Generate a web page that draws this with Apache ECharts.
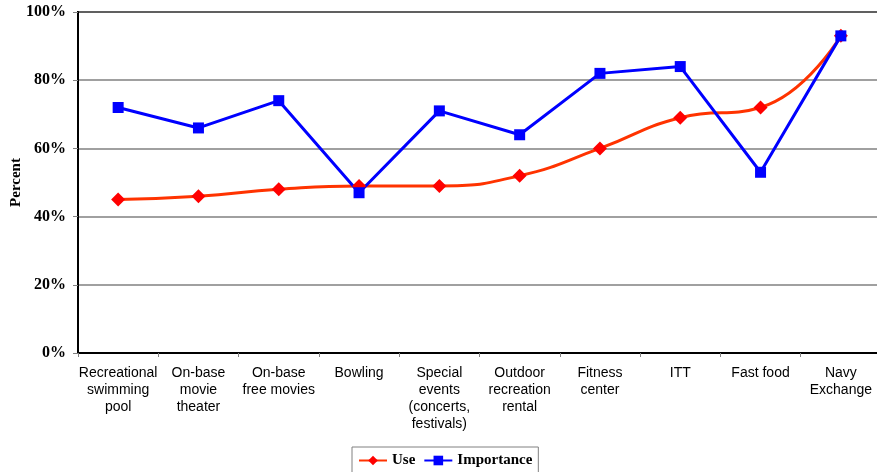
<!DOCTYPE html>
<html><head><meta charset="utf-8">
<script src="https://cdn.jsdelivr.net/npm/echarts@6/dist/echarts.min.js"></script>
<style>html,body{margin:0;padding:0;background:#fff}#c{width:877px;height:472px}</style>
</head><body><div id="c"></div>
<script>
const categories = ["Recreational\nswimming\npool","On-base\nmovie\ntheater","On-base\nfree movies","Bowling","Special\nevents\n(concerts,\nfestivals)","Outdoor\nrecreation\nrental","Fitness\ncenter","ITT","Fast food","Navy\nExchange"];
const useValues = [45,46,48,49,49,52,60,69,72,93];
const importanceValues = [72,66,74,47,71,64,82,84,53,93];
const yTicks = [0,20,40,60,80,100];

const chart = echarts.init(document.getElementById('c'), null, {renderer:'canvas'});
chart.setOption({
  animation:false,
  backgroundColor:'#fff',
  grid:{left:78, top:12, width:803, height:341, show:true, borderColor:'#000', borderWidth:2, outerBoundsMode:'none', containLabel:false},
  legend:{
    bottom:-4, left:352,
    data:['Use','Importance'],
    borderColor:'#808080', borderWidth:1, padding:[6,6,8,6],
    itemWidth:28, itemHeight:12, itemGap:8,
    textStyle:{fontFamily:'Liberation Serif', fontWeight:'bold', fontSize:15, color:'#000'}
  },
  xAxis:{
    type:'category', data:categories, boundaryGap:true,
    axisLine:{lineStyle:{color:'#000', width:2}},
    axisTick:{show:true, length:4, lineStyle:{color:'#808080'}},
    axisLabel:{interval:0, margin:12, fontFamily:'Liberation Sans', fontSize:14, color:'#000', lineHeight:17}
  },
  yAxis:{
    type:'value', min:0, max:100, interval:20,
    name:'Percent', nameLocation:'middle', nameGap:54, nameRotate:90, nameMoveOverlap:false,
    nameTextStyle:{fontFamily:'Liberation Serif', fontWeight:'bold', fontSize:15, color:'#000'},
    axisLine:{show:true, lineStyle:{color:'#000', width:2}},
    axisTick:{show:true, length:5, lineStyle:{color:'#808080'}},
    splitLine:{lineStyle:{color:'#808080', width:1.5}},
    axisLabel:{formatter:v=>yTicks.includes(v)?v+'%':'', margin:12, fontFamily:'Liberation Serif', fontWeight:'bold', fontSize:16, color:'#000'}
  },
  series:[
    {name:'Use', type:'line', data:useValues, smooth:0.5,
     symbol:'diamond', symbolSize:14,
     lineStyle:{color:'#FF3300', width:3},
     itemStyle:{color:'#FF0000', borderWidth:0}},
    {name:'Importance', type:'line', data:importanceValues, smooth:false,
     symbol:'rect', symbolSize:11,
     lineStyle:{color:'#0000FF', width:3},
     itemStyle:{color:'#0000FF', borderWidth:0}}
  ]
});
</script></body></html>
